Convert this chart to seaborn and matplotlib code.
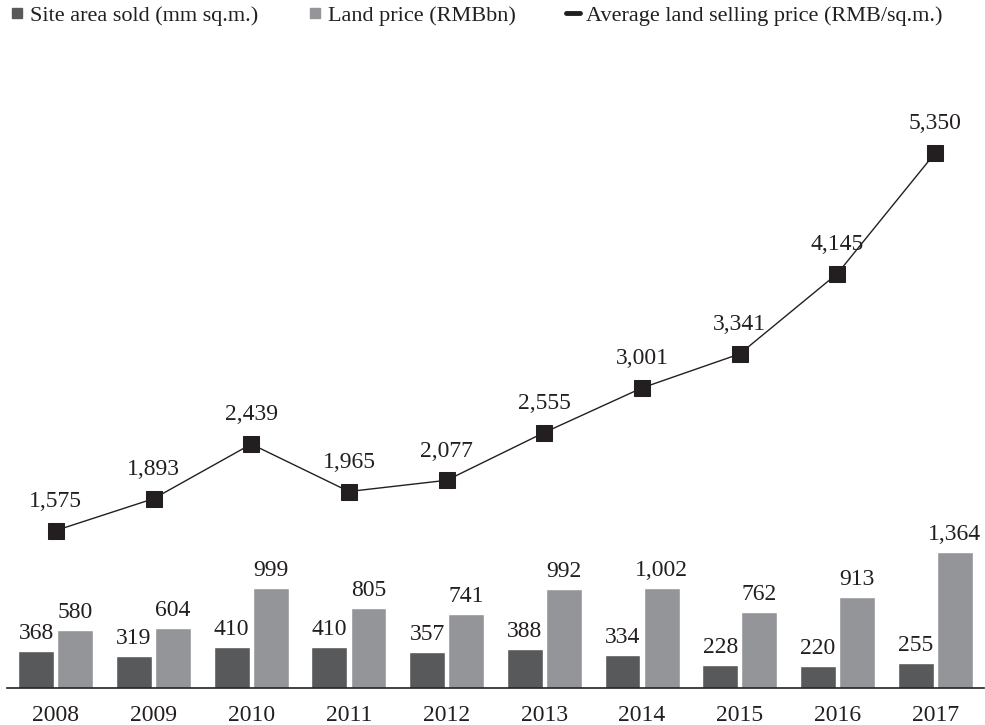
import seaborn as sns
import matplotlib.pyplot as plt
import pandas as pd
from matplotlib.lines import Line2D

years = ['2008', '2009', '2010', '2011', '2012', '2013', '2014', '2015', '2016', '2017']
site_area = [368, 319, 410, 410, 357, 388, 334, 228, 220, 255]
land_price = [580, 604, 999, 805, 741, 992, 1002, 762, 913, 1364]
avg_price = [1575, 1893, 2439, 1965, 2077, 2555, 3001, 3341, 4145, 5350]

names = ['Site area sold (mm sq.m.)', 'Land price (RMBbn)', 'Average land selling price (RMB/sq.m.)']
dark = '#58595b'
light = '#939598'
black = '#231f20'

bars_df = pd.DataFrame({
    'year': years * 2,
    'value': site_area + land_price,
    'series': [names[0]] * len(years) + [names[1]] * len(years),
})
line_df = pd.DataFrame({'year': years, 'value': avg_price})

sns.set_theme(style='white')
plt.rcParams['font.family'] = ['Liberation Serif', 'DejaVu Serif']

fig = plt.figure(figsize=(9.85, 7.25), dpi=100)
ax = fig.add_axes([7 / 985, 1 - 688 / 725, 977 / 985, 600 / 725])

sns.barplot(data=bars_df, x='year', y='value', hue='series', order=years,
            palette=[dark, light], width=0.8, gap=0.08, saturation=1,
            legend=False, ax=ax)
sns.pointplot(data=line_df, x='year', y='value', order=years, color=black,
              markers='s', markersize=12, linewidth=1, ax=ax)

for cont in ax.containers:
    ax.bar_label(cont, labels=['{:,}'.format(int(v)) for v in cont.datavalues],
                 padding=5, fontsize=17, color='#231f20')

for i, v in enumerate(avg_price):
    ax.annotate('{:,}'.format(v), (i, v), xytext=(0, 21), textcoords='offset points',
                ha='center', va='center', fontsize=17, color='#231f20')

ax.set_xlim(-0.5, 9.5)
ax.set_ylim(0, 6000)
ax.set_xlabel('')
ax.set_ylabel('')
ax.set_yticks([])
ax.tick_params(axis='x', length=0, labelsize=17, pad=12, colors='#231f20')
for s in ['top', 'right', 'left']:
    ax.spines[s].set_visible(False)
ax.spines['bottom'].set_color('#231f20')
ax.spines['bottom'].set_linewidth(1.2)

handles = [
    Line2D([], [], marker='s', color=dark, linestyle='none', markersize=7),
    Line2D([], [], marker='s', color=light, linestyle='none', markersize=7),
    Line2D([], [], color=black, linewidth=3.5),
]
fig.legend(handles, names, loc='upper left', bbox_to_anchor=(-0.006, 1.014), ncol=3,
           frameon=False, fontsize=16, handlelength=0.65, handletextpad=0.25,
           columnspacing=2.25, borderaxespad=0.3, labelcolor='#231f20')

fig.savefig('out.png', dpi=100)
